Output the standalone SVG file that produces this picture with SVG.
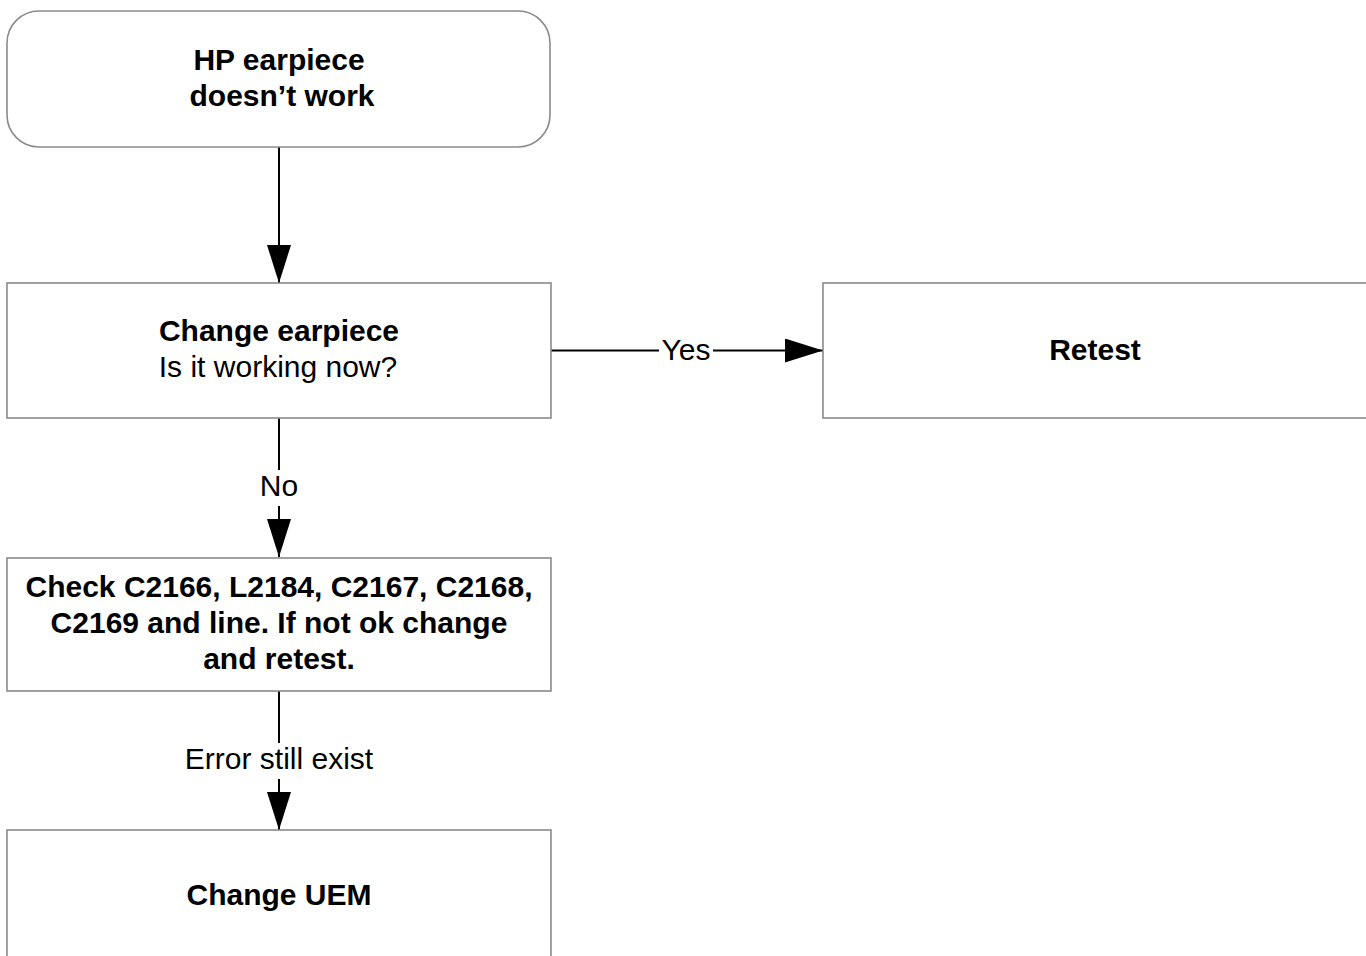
<svg xmlns="http://www.w3.org/2000/svg" width="1366" height="956" viewBox="0 0 1366 956">
  <defs>
    <marker id="arrow" viewBox="0 0 38 24" refX="38" refY="12" markerWidth="38" markerHeight="24" markerUnits="userSpaceOnUse" orient="auto">
      <path d="M0,0 L38,12 L0,24 Z" fill="#000"/>
    </marker>
    <style>
      .box { fill: #fff; stroke: #8a8a8a; stroke-width: 1.6; }
      .t { font-family: "Liberation Sans", Arial, sans-serif; font-size: 30px; fill: #000; text-anchor: middle; }
      .b { font-weight: bold; }
      .edge { stroke: #000; stroke-width: 2; fill: none; }
      .lbl { font-family: "Liberation Sans", Arial, sans-serif; font-size: 30px; fill: #000; text-anchor: middle; }
      .lblbg { fill: #fff; }
    </style>
  </defs>
  <rect width="1366" height="956" fill="#fff"/>

  <g id="connectors">
    <line class="edge" x1="279" y1="147" x2="279" y2="283" marker-end="url(#arrow)"/>
    <line class="edge" x1="551" y1="350.5" x2="823" y2="350.5" marker-end="url(#arrow)"/>
    <line class="edge" x1="279" y1="418" x2="279" y2="557" marker-end="url(#arrow)"/>
    <line class="edge" x1="279" y1="691" x2="279" y2="830" marker-end="url(#arrow)"/>
    <rect class="lblbg" x="659" y="334" width="54" height="32"/>
    <text class="lbl" x="686" y="360">Yes</text>
    <rect class="lblbg" x="257" y="470" width="44" height="36"/>
    <text class="lbl" x="279" y="496">No</text>
    <rect class="lblbg" x="182" y="743" width="194" height="36"/>
    <text class="lbl" x="279" y="769">Error still exist</text>
  </g>

  <g id="start">
    <rect class="box" x="7" y="11" width="543" height="136" rx="32" ry="32"/>
    <text class="t b" x="279" y="70">HP earpiece</text>
    <text class="t b" x="282" y="106">doesn’t work</text>
  </g>

  <g id="change-earpiece">
    <rect class="box" x="7" y="283" width="544" height="135"/>
    <text class="t b" x="279" y="341">Change earpiece</text>
    <text class="t" x="278" y="377">Is it working now?</text>
  </g>

  <g id="retest">
    <rect class="box" x="823" y="283" width="545" height="135"/>
    <text class="t b" x="1095" y="360">Retest</text>
  </g>

  <g id="check-parts">
    <rect class="box" x="7" y="558" width="544" height="133"/>
    <text class="t b" x="279" y="597">Check C2166, L2184, C2167, C2168,</text>
    <text class="t b" x="279" y="633">C2169 and line. If not ok change</text>
    <text class="t b" x="279" y="669">and retest.</text>
  </g>

  <g id="change-uem">
    <rect class="box" x="7" y="830" width="544" height="140"/>
    <text class="t b" x="279" y="905">Change UEM</text>
  </g>
</svg>
